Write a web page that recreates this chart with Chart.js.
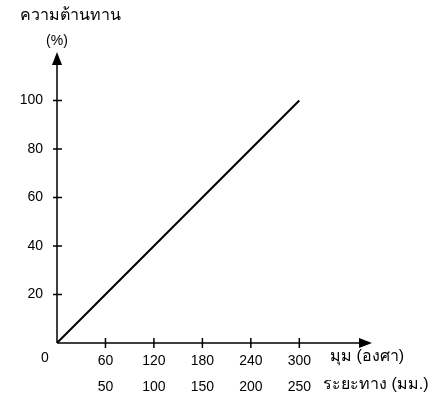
<!DOCTYPE html>
<html>
<head>
<meta charset="utf-8">
<script src="https://cdn.jsdelivr.net/npm/chart.js@4/dist/chart.umd.min.js"></script>
<style>
  html, body { margin: 0; padding: 0; background: #fff; }
  #wrap { width: 438px; height: 404px; position: relative; }
</style>
</head>
<body>
<div id="wrap"><canvas id="c"></canvas></div>
<script>
const angleTicks = [60, 120, 180, 240, 300];
const distTicks = [50, 100, 150, 200, 250];
const resistTicks = [20, 40, 60, 80, 100];
const lineAngle = [0, 300];
const lineResist = [0, 100];

const yTitle = ["ความต้านทาน", "(%)"];
const xTitle1 = "มุม (องศา)";
const xTitle2 = "ระยะทาง (มม.)";

const FONT = "14px 'Liberation Sans', Arial, sans-serif";
const THAI = "16px 'Liberation Sans', Arial, sans-serif";

// ticks that cross the axis, arrows, titles
const axisDeco = {
  id: "axisDeco",
  afterDraw(chart) {
    const ctx = chart.ctx;
    const x = chart.scales.x, y = chart.scales.y;
    const ox = x.getPixelForValue(0), oy = y.getPixelForValue(0);
    const xEnd = chart.chartArea.right, yEnd = chart.chartArea.top;
    ctx.save();
    ctx.strokeStyle = "#000";
    ctx.fillStyle = "#000";
    ctx.lineWidth = 1.5;
    ctx.beginPath();
    ctx.moveTo(ox, oy); ctx.lineTo(xEnd - 6, oy);
    ctx.moveTo(ox, oy); ctx.lineTo(ox, yEnd + 6);
    angleTicks.forEach(v => {
      const px = x.getPixelForValue(v);
      ctx.moveTo(px, oy - 5); ctx.lineTo(px, oy + 5);
    });
    resistTicks.forEach(v => {
      const py = y.getPixelForValue(v);
      ctx.moveTo(ox - 4, py); ctx.lineTo(ox + 5, py);
    });
    ctx.stroke();
    // arrows
    ctx.beginPath();
    ctx.moveTo(ox, yEnd); ctx.lineTo(ox - 5, yEnd + 13); ctx.lineTo(ox + 5, yEnd + 13);
    ctx.closePath(); ctx.fill();
    ctx.beginPath();
    ctx.moveTo(xEnd, oy); ctx.lineTo(xEnd - 13, oy - 5); ctx.lineTo(xEnd - 13, oy + 5);
    ctx.closePath(); ctx.fill();
    // labels
    ctx.textBaseline = "middle";
    ctx.textAlign = "left";
    ctx.font = FONT;
    ctx.fillText("0", ox - 16, oy + 15);
    ctx.font = THAI;
    ctx.fillText(xTitle1, 330, oy + 14);
    ctx.fillText(xTitle2, 323, oy + 42);
    ctx.textAlign = "center";
    ctx.fillText(yTitle[0], 70, 16);
    ctx.font = FONT;
    ctx.fillText(yTitle[1], 57, 41);
    ctx.restore();
  }
};

new Chart(document.getElementById("c"), {
  type: "line",
  data: {
    datasets: [{
      data: lineAngle.map((a, i) => ({ x: a, y: lineResist[i] })),
      borderColor: "#000",
      borderWidth: 2,
      pointRadius: 0,
      fill: false
    }]
  },
  options: {
    responsive: true,
    maintainAspectRatio: false,
    animation: false,
    layout: { padding: { top: 52, right: 66, left: 0, bottom: 0 } },
    plugins: { legend: { display: false }, tooltip: { enabled: false } },
    scales: {
      x: {
        type: "linear",
        min: 0, max: 390,
        afterFit: s => { s.height = 61; },
        afterBuildTicks: s => { s.ticks = angleTicks.map(v => ({ value: v })); },
        grid: { display: false },
        border: { display: false },
        ticks: {
          color: "#000",
          font: { family: "'Liberation Sans', Arial, sans-serif", size: 14, lineHeight: 1.8 },
          padding: -2,
          maxRotation: 0,
          autoSkip: false,
          callback: v => [String(v), String(distTicks[angleTicks.indexOf(v)])]
        }
      },
      y: {
        min: 0, max: 120,
        afterFit: s => { s.width = 57; },
        afterBuildTicks: s => { s.ticks = resistTicks.map(v => ({ value: v })); },
        grid: { display: false },
        border: { display: false },
        ticks: {
          color: "#000",
          font: { family: "'Liberation Sans', Arial, sans-serif", size: 14 },
          padding: 6
        }
      }
    }
  },
  plugins: [axisDeco]
});
</script>
</body>
</html>
